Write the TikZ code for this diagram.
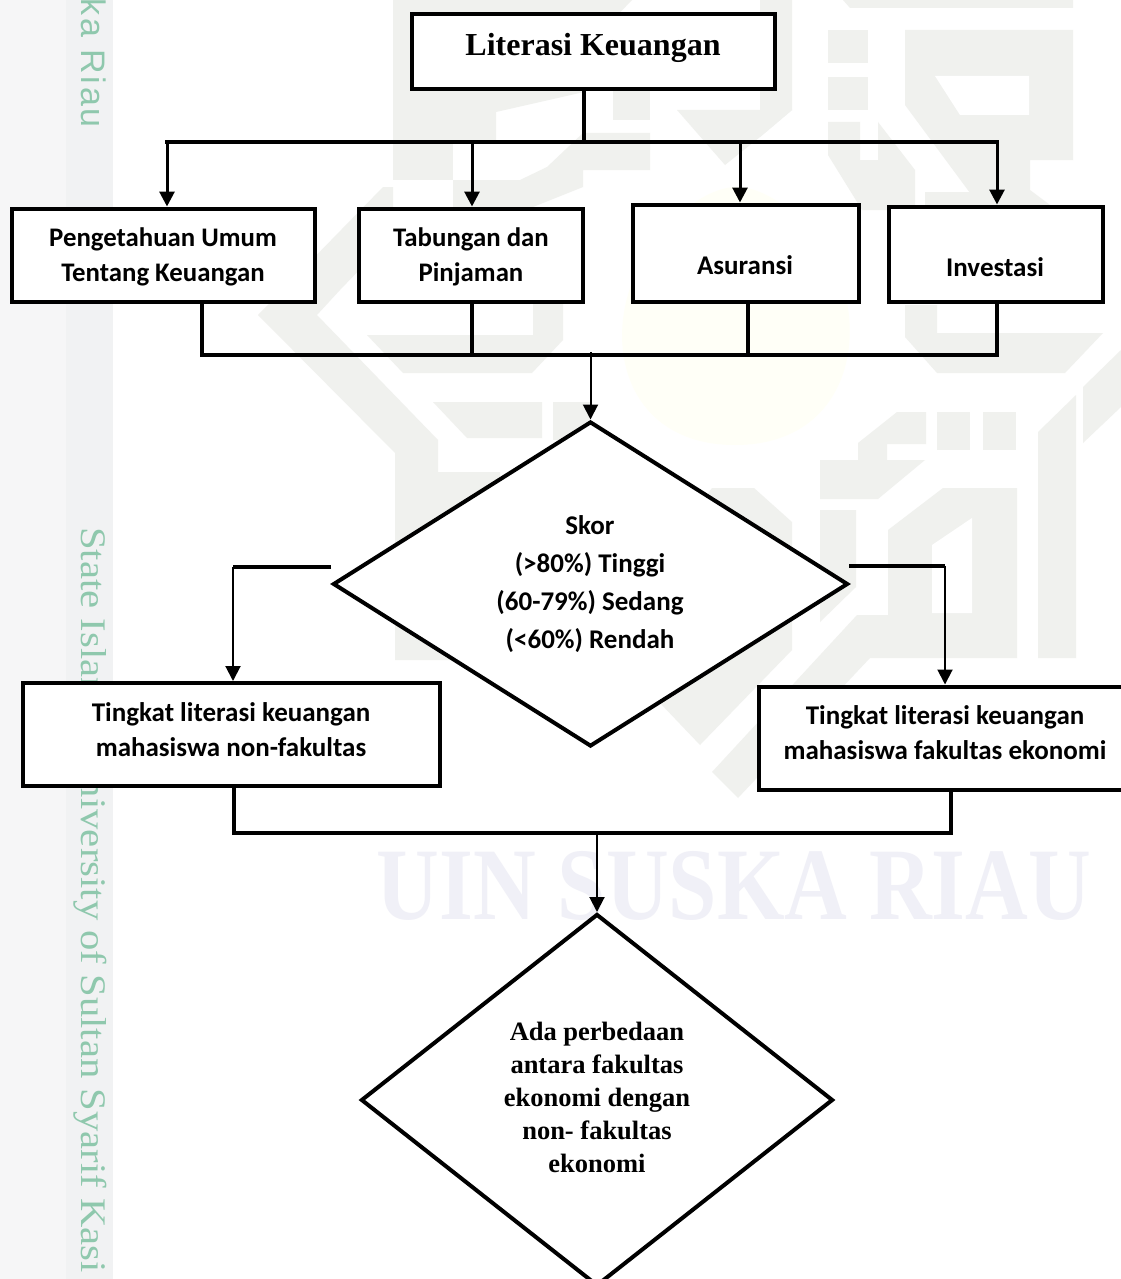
\documentclass[tikz,border=0pt]{standalone}
\usepackage{fontspec}
\usepackage{graphicx}
\usetikzlibrary{arrows.meta,shapes.geometric}
\setmainfont{Liberation Serif}
\newfontfamily\calfont{Carlito}
\newfontfamily\wmsans{Liberation Sans}[LetterSpace=8]
\newfontfamily\wmserif{Liberation Serif}[FakeStretch=1.13]
\definecolor{bgshape}{HTML}{F0F1EE}
\definecolor{bgyellow}{HTML}{FFFFF7}
\definecolor{stripA}{HTML}{F6F6F7}
\definecolor{stripB}{HTML}{F1F2F3}
\definecolor{wmteal}{HTML}{8FC8AD}
\definecolor{wmblue}{HTML}{F0F0F7}
\tikzset{
  bgp/.style={fill=bgshape,draw=none},
  boxst/.style={draw=black,fill=white,line width=4pt,rectangle,inner sep=0pt},
  dia/.style={draw=black,fill=white,line width=4pt,diamond,inner sep=0pt},
  thickline/.style={draw=black,line width=4pt,line cap=rect},
  thickarr/.style={draw=black,line width=3pt,-{Triangle[length=15pt,width=15pt]}},
  thinarr/.style={draw=black,line width=2pt,-{Triangle[length=15pt,width=15pt]}},
  caltxt/.style={align=center,inner sep=0pt,font=\calfont\bfseries\fontsize{26.8}{35}\selectfont},
  caltxtb/.style={align=center,inner sep=0pt,font=\calfont\bfseries\fontsize{27}{38}\selectfont},
  caltxtc/.style={align=center,inner sep=0pt,font=\calfont\bfseries\fontsize{27}{35}\selectfont},
  timestxt/.style={align=center,inner sep=0pt,font=\bfseries\fontsize{26.5}{33}\selectfont},
}
\begin{document}
\begin{tikzpicture}[x=1pt,y=-1pt]
\useasboundingbox (0,0) rectangle (1121,1279);
\fill[white] (0,0) rectangle (1121,1279);
% side strips
\fill[stripA] (0,0) rectangle (66,1279);
\fill[stripB] (66,0) rectangle (113,1279);
% pale logo
\fill[bgyellow] (735,445) .. controls (625,445) and (600,340) .. (640,265) .. controls (665,220) and (705,187) .. (737,187) .. controls (770,187) and (815,225) .. (835,265) .. controls (870,340) and (845,445) .. cycle;
% watermark geometry
\path[bgp] (393,0) -- (453,0) -- (453,180) -- (393,180) -- cycle;
\path[bgp] (453,0) -- (632,0) -- (584,50) -- (584,92) -- (496,112) -- (496,142) -- (453,142) -- cycle;
\path[bgp] (547,167) -- (583,133) -- (650,133) -- (650,170) -- (583,170) -- (583,187) -- (533,207) -- (453,207) -- (453,180) -- (520,180) -- cycle;
\path[bgp] (613,91) -- (650,91) -- (650,120) -- (613,120) -- cycle;
\path[bgp] (677,110) -- (792,110) -- (760,137) -- (725,165) -- cycle;
\path[bgp] (760,0) -- (792,0) -- (792,110) -- (760,137) -- cycle;
\path[bgp] (843,0) -- (1073,0) -- (1073,8) -- (850,8) -- cycle;
\path[bgp] (828,30) rectangle (868,63);
\path[bgp] (828,77) rectangle (868,110);
\path[bgp] (828,122) -- (860,122) -- (860,160) -- (878,160) -- (878,122) -- (915,170) -- (915,210) -- (862,210) -- (828,155) -- cycle;
\path[bgp] (905,30) -- (1073,30) -- (1073,160) -- (1030,160) -- (1030,190) -- (1070,220) -- (990,220) -- (905,105) -- cycle;
\path[bgp] (925,192) -- (985,192) -- (1000,210) -- (925,210) -- cycle;
\fill[white] (935,76) -- (1029,76) -- (1029,115) -- (960,115) -- cycle;
\path[bgp] (258,315) -- (383,187) -- (393,187) -- (393,235) -- (340,290) -- (317,315) -- (438,440) -- (438,472) -- (500,472) -- (500,660) -- (395,660) -- (395,453) -- cycle;
\path[bgp] (367,335) -- (533,335) -- (533,303) -- (563,303) -- (563,340) -- (532,373) -- (403,373) -- cycle;
\path[bgp] (433,402) -- (542,402) -- (542,438) -- (467,438) -- cycle;
\path[bgp] (553,402) rectangle (590,440);
\path[bgp] (905,305) -- (937,305) -- (937,333) -- (1103,333) -- (1065,373) -- (937,373) -- (905,337) -- cycle;
\path[bgp] (820,460) -- (858,460) -- (858,443) -- (897,412) -- (926,412) -- (926,444) -- (887,444) -- (887,460) -- (925,460) -- (878,499) -- (820,499) -- cycle;
\path[bgp] (937,412) rectangle (970,450);
\path[bgp] (983,412) rectangle (1016,450);
\path[bgp] (1038,432) -- (1076,395) -- (1076,658) -- (1038,658) -- cycle;
\path[bgp] (1083,387) -- (1121,350) -- (1121,407) -- (1083,443) -- cycle;
\path[bgp] (820,510) -- (856,510) -- (856,587) -- (820,622) -- cycle;
\path[bgp] (712,488) -- (754,488) -- (792,522) -- (792,650) -- (700,745) -- (600,640) -- cycle;
\path[bgp] (888,530) -- (943,488) -- (1017,488) -- (1017,658) -- (870,658) -- (738,798) -- (712,772) -- (857,615) -- (888,615) -- cycle;
\fill[white] (932,545) -- (972,518) -- (972,613) -- (932,613) -- cycle;
% watermark text
\node[rotate=-90,anchor=base east,inner sep=0pt,text=wmteal,font=\wmsans\fontsize{34}{40}\selectfont] (wm1) at (81,128) {ka Riau};
\node[rotate=-90,anchor=base west,inner sep=0pt,text=wmteal,font=\wmserif\fontsize{36}{40}\selectfont] (wm2) at (81,527) {State Islamic University of Sultan Syarif Kasi};
\node[inner sep=0pt,text=wmblue] (wm3) at (734,886) {\resizebox{714pt}{68pt}{\bfseries UIN SUSKA RIAU}};
% nodes
\node[boxst,minimum width=363pt,minimum height=75pt] (top) at (593,52) {};
\node[boxst,minimum width=303pt,minimum height=93pt] (b1) at (163,255) {};
\node[boxst,minimum width=224pt,minimum height=93pt] (b2) at (471,255) {};
\node[boxst,minimum width=226pt,minimum height=97pt] (b3) at (746,253) {};
\node[boxst,minimum width=214pt,minimum height=95pt] (b4) at (995.5,254) {};
\node[dia,minimum width=515pt,minimum height=325pt] (d1) at (590.5,584) {};
\node[boxst,minimum width=417pt,minimum height=103pt] (l1) at (231,734.5) {};
\node[boxst,minimum width=367pt,minimum height=103pt] (l2) at (942,738) {};
\node[dia,minimum width=472pt,minimum height=372pt] (d2) at (597,1100) {};
% junctions
\coordinate (busT) at (584,142);
\coordinate (busTl) at (167,142);
\coordinate (busTr) at (997,142);
\coordinate (a2) at (472,142);
\coordinate (a3) at (740,142);
\coordinate (busM) at (590.5,352);
\coordinate (busMl) at (202,355);
\coordinate (busMr) at (997,355);
\coordinate (m2) at (472,355);
\coordinate (m3) at (748,355);
\coordinate (sl) at (331,567);
\coordinate (slc) at (233,567);
\coordinate (sr) at (849,566);
\coordinate (src) at (945,566);
\coordinate (busLl) at (234,833);
\coordinate (busLr) at (951,833);
\coordinate (busLm) at (597,833);
% connectors
\draw[thickline] (top.south -| busT) -- (busT);
\draw[thickline] (busTl) -- (busTr);
\draw[thickarr] (busTl) -- (busTl |- b1.north);
\draw[thickarr] (a2) -- (a2 |- b2.north);
\draw[thickarr] (a3) -- (a3 |- b3.north);
\draw[thickarr] (busTr) -- (busTr |- b4.north);
\draw[thickline] (busMl |- b1.south) -- (busMl);
\draw[thickline] (m2 |- b2.south) -- (m2);
\draw[thickline] (m3 |- b3.south) -- (m3);
\draw[thickline] (busMr |- b4.south) -- (busMr);
\draw[thickline] (busMl) -- (busMr);
\draw[thinarr] (busM) -- (d1.north);
\draw[draw=black,line width=4pt] (sl) -- (slc);
\draw[thinarr] (slc) -- (slc |- l1.north);
\draw[draw=black,line width=4pt] (sr) -- (src);
\draw[thinarr] (src) -- (src |- l2.north);
\draw[thickline] (busLl |- l1.south) -- (busLl);
\draw[thickline] (busLr |- l2.south) -- (busLr);
\draw[thickline] (busLl) -- (busLr);
\draw[thinarr] (busLm) -- (d2.north);
% texts
\node[inner sep=0pt,font=\bfseries\fontsize{32}{36}\selectfont] (ttop) at (593,48) {Literasi Keuangan};
\node[caltxt] (t1) at (163,256.5) {Pengetahuan Umum\\Tentang Keuangan};
\node[caltxt] (t2) at (471,256.5) {Tabungan dan\\Pinjaman};
\node[caltxtb] (t3) at (745,265) {Asuransi};
\node[caltxtb] (t4) at (995,267) {Investasi};
\node[caltxtb] (t5) at (590,584.5) {Skor\\(>80\%) Tinggi\\(60-79\%) Sedang\\(<60\%) Rendah};
\node[caltxtc] (t6) at (231,730) {Tingkat literasi keuangan\\mahasiswa non-fakultas};
\node[caltxtc] (t7) at (945,733) {Tingkat literasi keuangan\\mahasiswa fakultas ekonomi};
\node[timestxt] (t8) at (597,1097) {Ada perbedaan\\antara fakultas\\ekonomi dengan\\non- fakultas\\ekonomi};
\end{tikzpicture}
\end{document}
